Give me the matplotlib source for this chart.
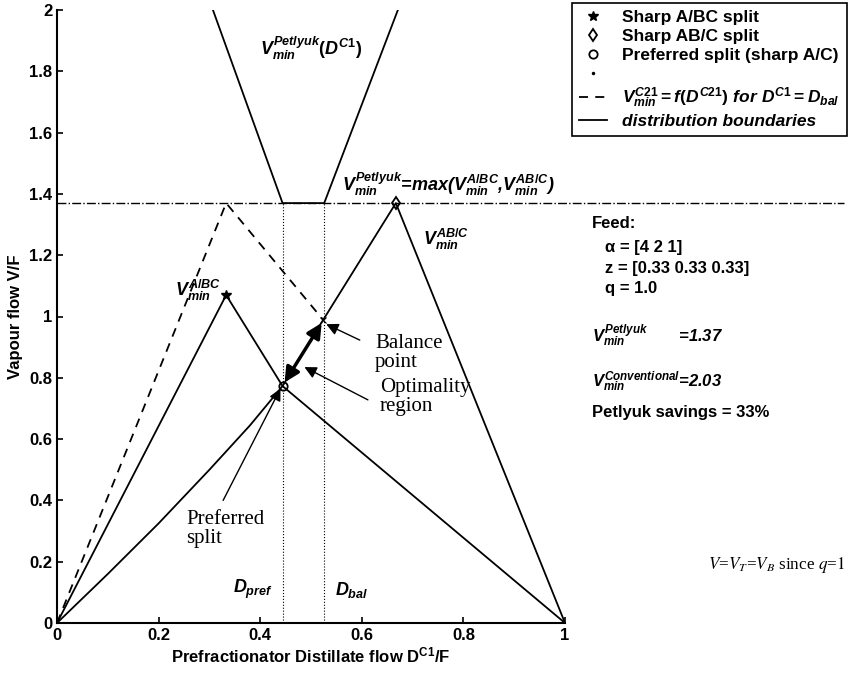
import matplotlib
matplotlib.use("Agg")
import matplotlib.pyplot as plt
from matplotlib.lines import Line2D
from matplotlib.ticker import FormatStrFormatter

plt.rcParams['font.family'] = ['Liberation Sans', 'DejaVu Sans']
plt.rcParams['font.size'] = 12
plt.rcParams['mathtext.fontset'] = 'custom'
plt.rcParams['mathtext.it'] = 'Liberation Sans:bold:italic'
plt.rcParams['mathtext.rm'] = 'Liberation Sans:bold'
plt.rcParams['mathtext.bf'] = 'Liberation Sans:bold'

# values
d_pref = 0.444
d_bal = 0.526
v_petlyuk = 1.37

# sharp split points
abc_split_x, abc_split_y = 0.333, 1.07
ab_c_split_x, ab_c_split_y = 0.667, 1.37
pref_x, pref_y = 0.444, 0.773
bal_x, bal_y = 0.524, 0.989

# distribution boundaries
abc_x = [0, 0.333, 0.444, 1]
abc_y = [0, 1.07, 0.773, 0]
ab_c_x = [0, 0.1, 0.2, 0.3, 0.38, 0.444, 0.524, 0.667, 1]
ab_c_y = [0, 0.16, 0.325, 0.5, 0.645, 0.773, 0.989, 1.37, 0]
petlyuk_x = [0.307, 0.444, 0.526, 0.671]
petlyuk_y = [2.0, 1.37, 1.37, 2.0]

# V_min^C21 = f(D^C21) for D^C1 = D_bal
c21_x = [0, 0.333, 0.524]
c21_y = [0, 1.37, 0.989]

x_ticks = [0, 0.2, 0.4, 0.6, 0.8, 1]
y_ticks = [0, 0.2, 0.4, 0.6, 0.8, 1, 1.2, 1.4, 1.6, 1.8, 2]

W, H = 849, 675
fig = plt.figure(figsize=(W / 100, H / 100), dpi=100)
ax = fig.add_axes([57 / W, 1 - 623 / H, (565 - 57) / W, (623 - 10) / H])

lw = 1.3
ax.plot(abc_x, abc_y, 'k-', lw=lw)
ax.plot(ab_c_x, ab_c_y, 'k-', lw=lw)
ax.plot(petlyuk_x, petlyuk_y, 'k-', lw=lw)
ax.plot(c21_x, c21_y, 'k--', lw=lw, dashes=(5, 4))
ax.plot([0, 1.55], [v_petlyuk, v_petlyuk], 'k-.', lw=1.0, clip_on=False)
ax.plot([d_pref, d_pref], [0, v_petlyuk], 'k:', lw=0.8)
ax.plot([d_bal, d_bal], [0, v_petlyuk], 'k:', lw=0.8)

ax.plot(abc_split_x, abc_split_y, 'k*', ms=7)
ax.plot(ab_c_split_x, ab_c_split_y, 'kd', mfc='none', ms=6, mew=1.3)
ax.plot(pref_x, pref_y, 'ko', mfc='none', ms=6, mew=1.3)
ax.plot(bal_x, bal_y, 'kx', ms=4, mew=0.8)

# arrows
ax.annotate('', xy=(bal_x - 0.003, bal_y - 0.01), xytext=(pref_x + 0.004, pref_y + 0.012),
            arrowprops=dict(arrowstyle='<|-|>', color='k', lw=2.5,
                            mutation_scale=22, shrinkA=0, shrinkB=0))
ax.annotate('', xy=(0.53, 0.975), xytext=(0.596, 0.923),
            arrowprops=dict(arrowstyle='-|>', color='k', lw=1, mutation_scale=18,
                            shrinkA=0, shrinkB=0))
ax.annotate('', xy=(0.487, 0.835), xytext=(0.612, 0.728),
            arrowprops=dict(arrowstyle='-|>', color='k', lw=1, mutation_scale=18,
                            shrinkA=0, shrinkB=0))
ax.annotate('', xy=(0.44, 0.765), xytext=(0.327, 0.40),
            arrowprops=dict(arrowstyle='-|>', color='k', lw=1, mutation_scale=18,
                            shrinkA=0, shrinkB=0))

serif = dict(family=['Liberation Serif', 'DejaVu Serif'], fontweight='normal',
             fontsize=15, linespacing=1.0)
ax.text(0.626, 0.88, 'Balance\npoint', va='center', **serif)
ax.text(0.636, 0.737, 'Optimality\nregion', va='center', **serif)
ax.text(0.254, 0.307, 'Preferred\nsplit', va='center', **serif)

bold = dict(fontweight='bold')
ax.text(0.40, 1.876, r'$V_{min}^{Petlyuk}(D^{C1})$', va='center', fontsize=13, **bold)
ax.text(0.561, 1.43, r'$V_{min}^{Petlyuk}$=max($V_{min}^{A/BC}$,$V_{min}^{AB/C}$)',
        va='center', fontsize=13, style='italic', **bold)
ax.text(0.72, 1.25, r'$V_{min}^{AB/C}$', va='center', fontsize=13, **bold)
ax.text(0.232, 1.085, r'$V_{min}^{A/BC}$', va='center', fontsize=13, **bold)
ax.text(0.346, 0.108, r'$D_{pref}$', va='center', fontsize=13, **bold)
ax.text(0.547, 0.108, r'$D_{bal}$', va='center', fontsize=13, **bold)

ax.set_xlim(0, 1)
ax.set_ylim(0, 2)
ax.set_xticks(x_ticks)
ax.set_yticks(y_ticks)
ax.xaxis.set_major_formatter(FormatStrFormatter('%g'))
ax.yaxis.set_major_formatter(FormatStrFormatter('%g'))
ax.tick_params(direction='in', length=4, width=1.2, labelsize=12)
for lbl in ax.get_xticklabels() + ax.get_yticklabels():
    lbl.set_fontweight('bold')
ax.spines['top'].set_visible(False)
ax.spines['right'].set_visible(False)
ax.spines['left'].set_linewidth(1.5)
ax.spines['bottom'].set_linewidth(1.5)
ax.set_xlabel(r'Prefractionator Distillate flow D$^{\mathrm{C1}}$/F', fontsize=12,
              fontweight='bold', labelpad=2)
ax.set_ylabel('Vapour flow V/F', fontsize=12, fontweight='bold', labelpad=4)

# figure side texts
def ftext(px, py, s, **kw):
    fig.text(px / W, 1 - py / H, s, va='center', fontweight='bold', **kw)

ftext(592, 223, 'Feed:')
ftext(605, 247, 'α = [4 2 1]')
ftext(605, 268, 'z = [0.33 0.33 0.33]')
ftext(605, 288, 'q = 1.0')
ftext(592, 336, r'$V_{min}^{Petlyuk}$       =1.37', style='italic')
ftext(592, 382, r'$V_{min}^{Conventional}$=2.03', style='italic')
ftext(592, 412, 'Petlyuk savings = 33%')
fig.text(708 / W, 1 - 565 / H, r'$V$=$V_T$=$V_B$ since $q$=$1$',
         va='center', family=['Liberation Serif'], fontweight='normal',
         fontsize=12.3, math_fontfamily='stix')

handles = [
    Line2D([], [], color='k', marker='*', ls='none', ms=7),
    Line2D([], [], color='k', marker='d', mfc='none', ls='none', ms=6, mew=1.3),
    Line2D([], [], color='k', marker='o', mfc='none', ls='none', ms=6, mew=1.3),
    Line2D([], [], color='k', marker='.', ls='none', ms=3),
    Line2D([], [], color='k', ls='--', lw=lw, dashes=(5, 4)),
    Line2D([], [], color='k', ls='-', lw=lw),
]
labels = ['Sharp A/BC split', 'Sharp AB/C split', 'Preferred split (sharp A/C)', '',
          r'$V_{min}^{C21}=f(D^{C21})\ for\ D^{C1}=D_{bal}$', 'distribution boundaries']
leg = fig.legend(handles, labels, loc='upper left', bbox_to_anchor=(572 / W, 1 - 3 / H),
                 borderaxespad=0, fancybox=False, edgecolor='k', framealpha=1,
                 prop={'size': 12.5, 'weight': 'bold'},
                 handlelength=1.6, labelspacing=0.22, borderpad=0.4, handletextpad=0.9)
leg.get_frame().set_linewidth(1.2)
leg.get_texts()[5].set_style('italic')

fig.savefig('out.png', dpi=100)
